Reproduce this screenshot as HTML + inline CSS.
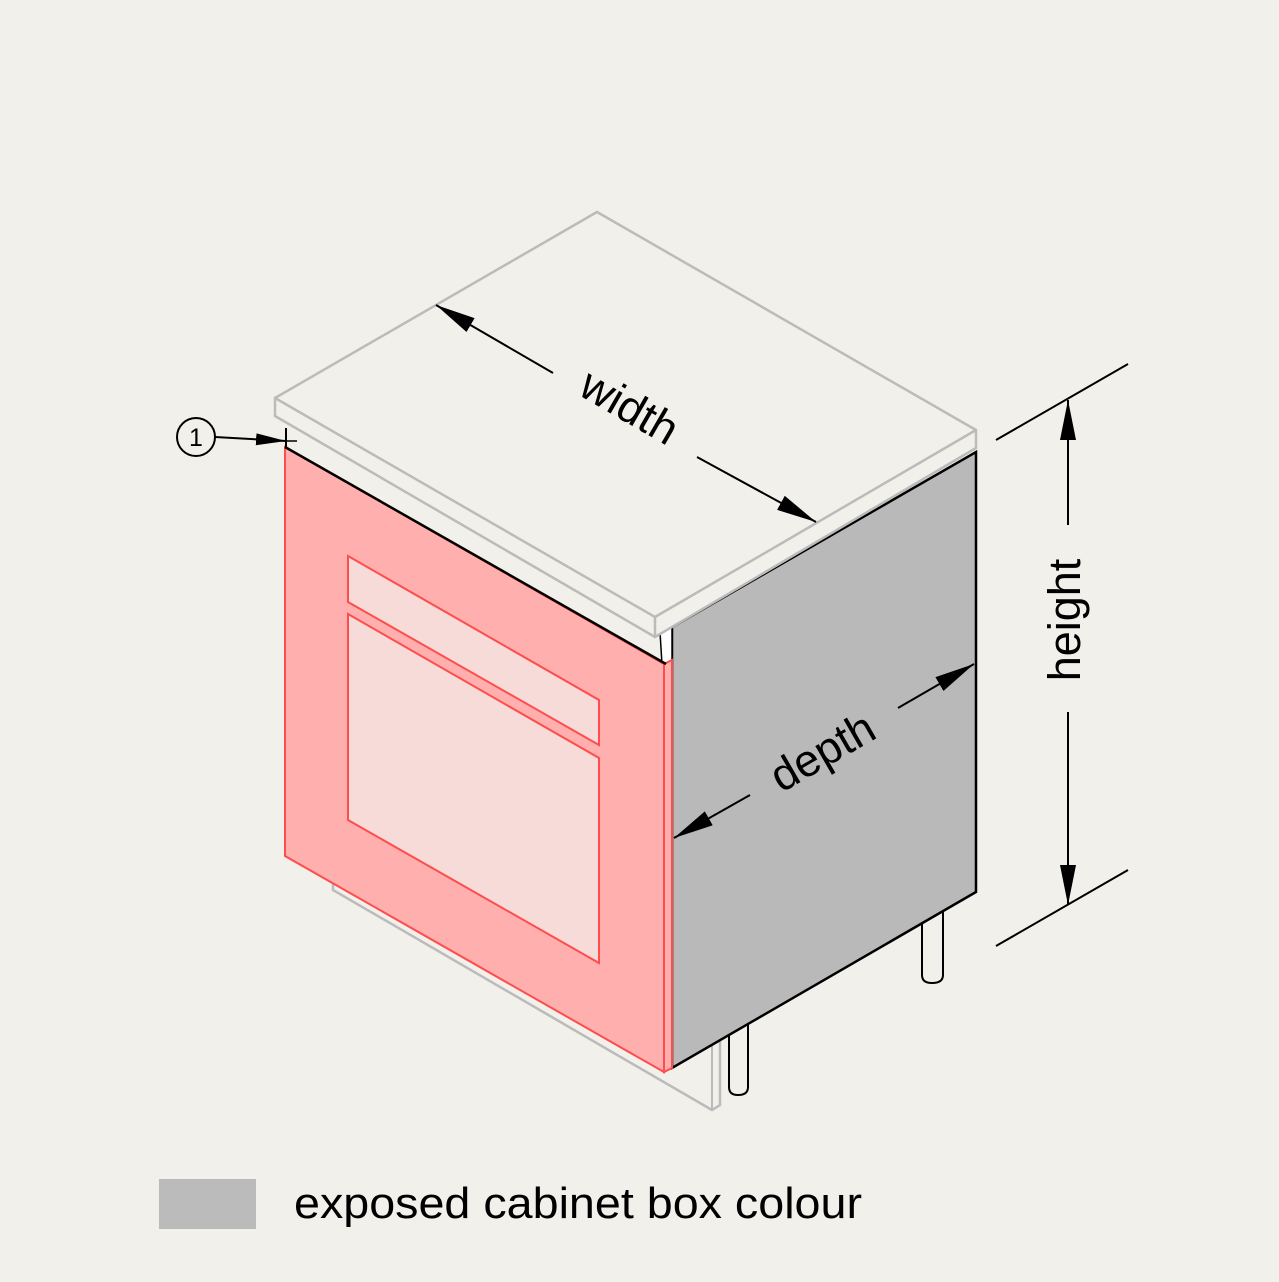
<!DOCTYPE html>
<html><head><meta charset="utf-8"><style>
html,body{margin:0;padding:0;background:#f2f0eb;}
svg{display:block;font-family:"Liberation Sans",Arial,sans-serif;}
</style></head><body>
<svg width="1279" height="1282" viewBox="0 0 1279 1282" xmlns="http://www.w3.org/2000/svg">
<defs>
<marker id="a" markerWidth="40" markerHeight="16" refX="40" refY="8" orient="auto" markerUnits="userSpaceOnUse" viewBox="0 0 40 16">
<path d="M0,0 L40,8 L0,16 z" fill="#000"/></marker>
<marker id="b" markerWidth="30" markerHeight="12" refX="30" refY="6" orient="auto" markerUnits="userSpaceOnUse" viewBox="0 0 30 12">
<path d="M0,0 L30,6 L0,12 z" fill="#000"/></marker>
</defs>
<rect width="1279" height="1282" fill="#f2f0eb"/>
<!-- plinth -->
<polyline points="333,880 333,890 712,1110 720,1105 720,1040" fill="none" stroke="#bbb" stroke-width="2.5"/>
<line x1="712" y1="1110" x2="712" y2="1040" stroke="#bbb" stroke-width="2"/>
<!-- legs -->
<path d="M729,1030 L729,1087 Q729,1095 738,1095 Q748,1095 748,1087 L748,1020" fill="#f2f0eb" stroke="#000" stroke-width="2"/>
<path d="M922,915 L922,975 Q922,983 932,983 Q943,983 943,975 L943,908" fill="#f2f0eb" stroke="#000" stroke-width="2"/>
<!-- side panel -->
<polygon points="672,627 976,452 976,892 672,1068" fill="#b9b9b9" stroke="#000" stroke-width="2.5"/>
<!-- white gap -->
<polygon points="660,632 672,627 672,664 662,664" fill="#fff" stroke="#000" stroke-width="1.5"/>
<!-- door -->
<polygon points="285,447 664,664 664,1072 285,856" fill="#ffb0ae" stroke="#ff4c4c" stroke-width="2"/>
<polygon points="664,664 672,660 672,1068 664,1072" fill="#ffb0ae" stroke="#ff4c4c" stroke-width="2"/>
<polygon points="348,556 599,700 599,745 348,602" fill="#f7dbd9" stroke="#ff4c4c" stroke-width="2"/>
<polygon points="348,614 599,758 599,963 348,820" fill="#f7dbd9" stroke="#ff4c4c" stroke-width="2"/>
<line x1="285" y1="447" x2="666" y2="664" stroke="#000" stroke-width="2.5"/>
<!-- worktop -->
<polygon points="275,398 597,212 976,430 976,448 655,637 275,416" fill="#f2f0eb" stroke="#bbb" stroke-width="2.5"/>
<polyline points="275,398 655,617 976,430" fill="none" stroke="#bbb" stroke-width="2.5"/>
<line x1="655" y1="617" x2="655" y2="637" stroke="#bbb" stroke-width="2.5"/>
<!-- callout 1 -->
<line x1="286" y1="428" x2="286" y2="447" stroke="#000" stroke-width="2"/>
<line x1="297" y1="441" x2="285" y2="441" stroke="#000" stroke-width="1.5"/>
<circle cx="196" cy="437" r="19" fill="none" stroke="#000" stroke-width="2"/>
<text x="196" y="446" font-size="25" text-anchor="middle">1</text>
<line x1="215" y1="437" x2="286" y2="441" stroke="#000" stroke-width="2" marker-end="url(#b)"/>
<!-- width -->
<line x1="553" y1="373" x2="436" y2="305" stroke="#000" stroke-width="2" marker-end="url(#a)"/>
<line x1="697" y1="457" x2="816" y2="522" stroke="#000" stroke-width="2" marker-end="url(#a)"/>
<text transform="translate(622,420) rotate(30)" font-size="45" text-anchor="middle">width</text>
<!-- depth -->
<line x1="898" y1="708" x2="974" y2="664" stroke="#000" stroke-width="2" marker-end="url(#a)"/>
<line x1="750" y1="795" x2="674" y2="838" stroke="#000" stroke-width="2" marker-end="url(#a)"/>
<text transform="translate(830,765) rotate(-30)" font-size="45" text-anchor="middle">depth</text>
<!-- height -->
<line x1="996" y1="440" x2="1128" y2="364" stroke="#000" stroke-width="2"/>
<line x1="996" y1="946" x2="1128" y2="870" stroke="#000" stroke-width="2"/>
<line x1="1068" y1="525" x2="1068" y2="400" stroke="#000" stroke-width="2" marker-end="url(#a)"/>
<line x1="1068" y1="712" x2="1068" y2="905" stroke="#000" stroke-width="2" marker-end="url(#a)"/>
<text transform="translate(1080,620) rotate(-90)" font-size="45" text-anchor="middle">height</text>
<!-- legend -->
<rect x="159" y="1179" width="97" height="50" fill="#bbb"/>
<text x="294" y="1218" font-size="44" textLength="568" lengthAdjust="spacingAndGlyphs">exposed cabinet box colour</text>
</svg>
</body></html>
